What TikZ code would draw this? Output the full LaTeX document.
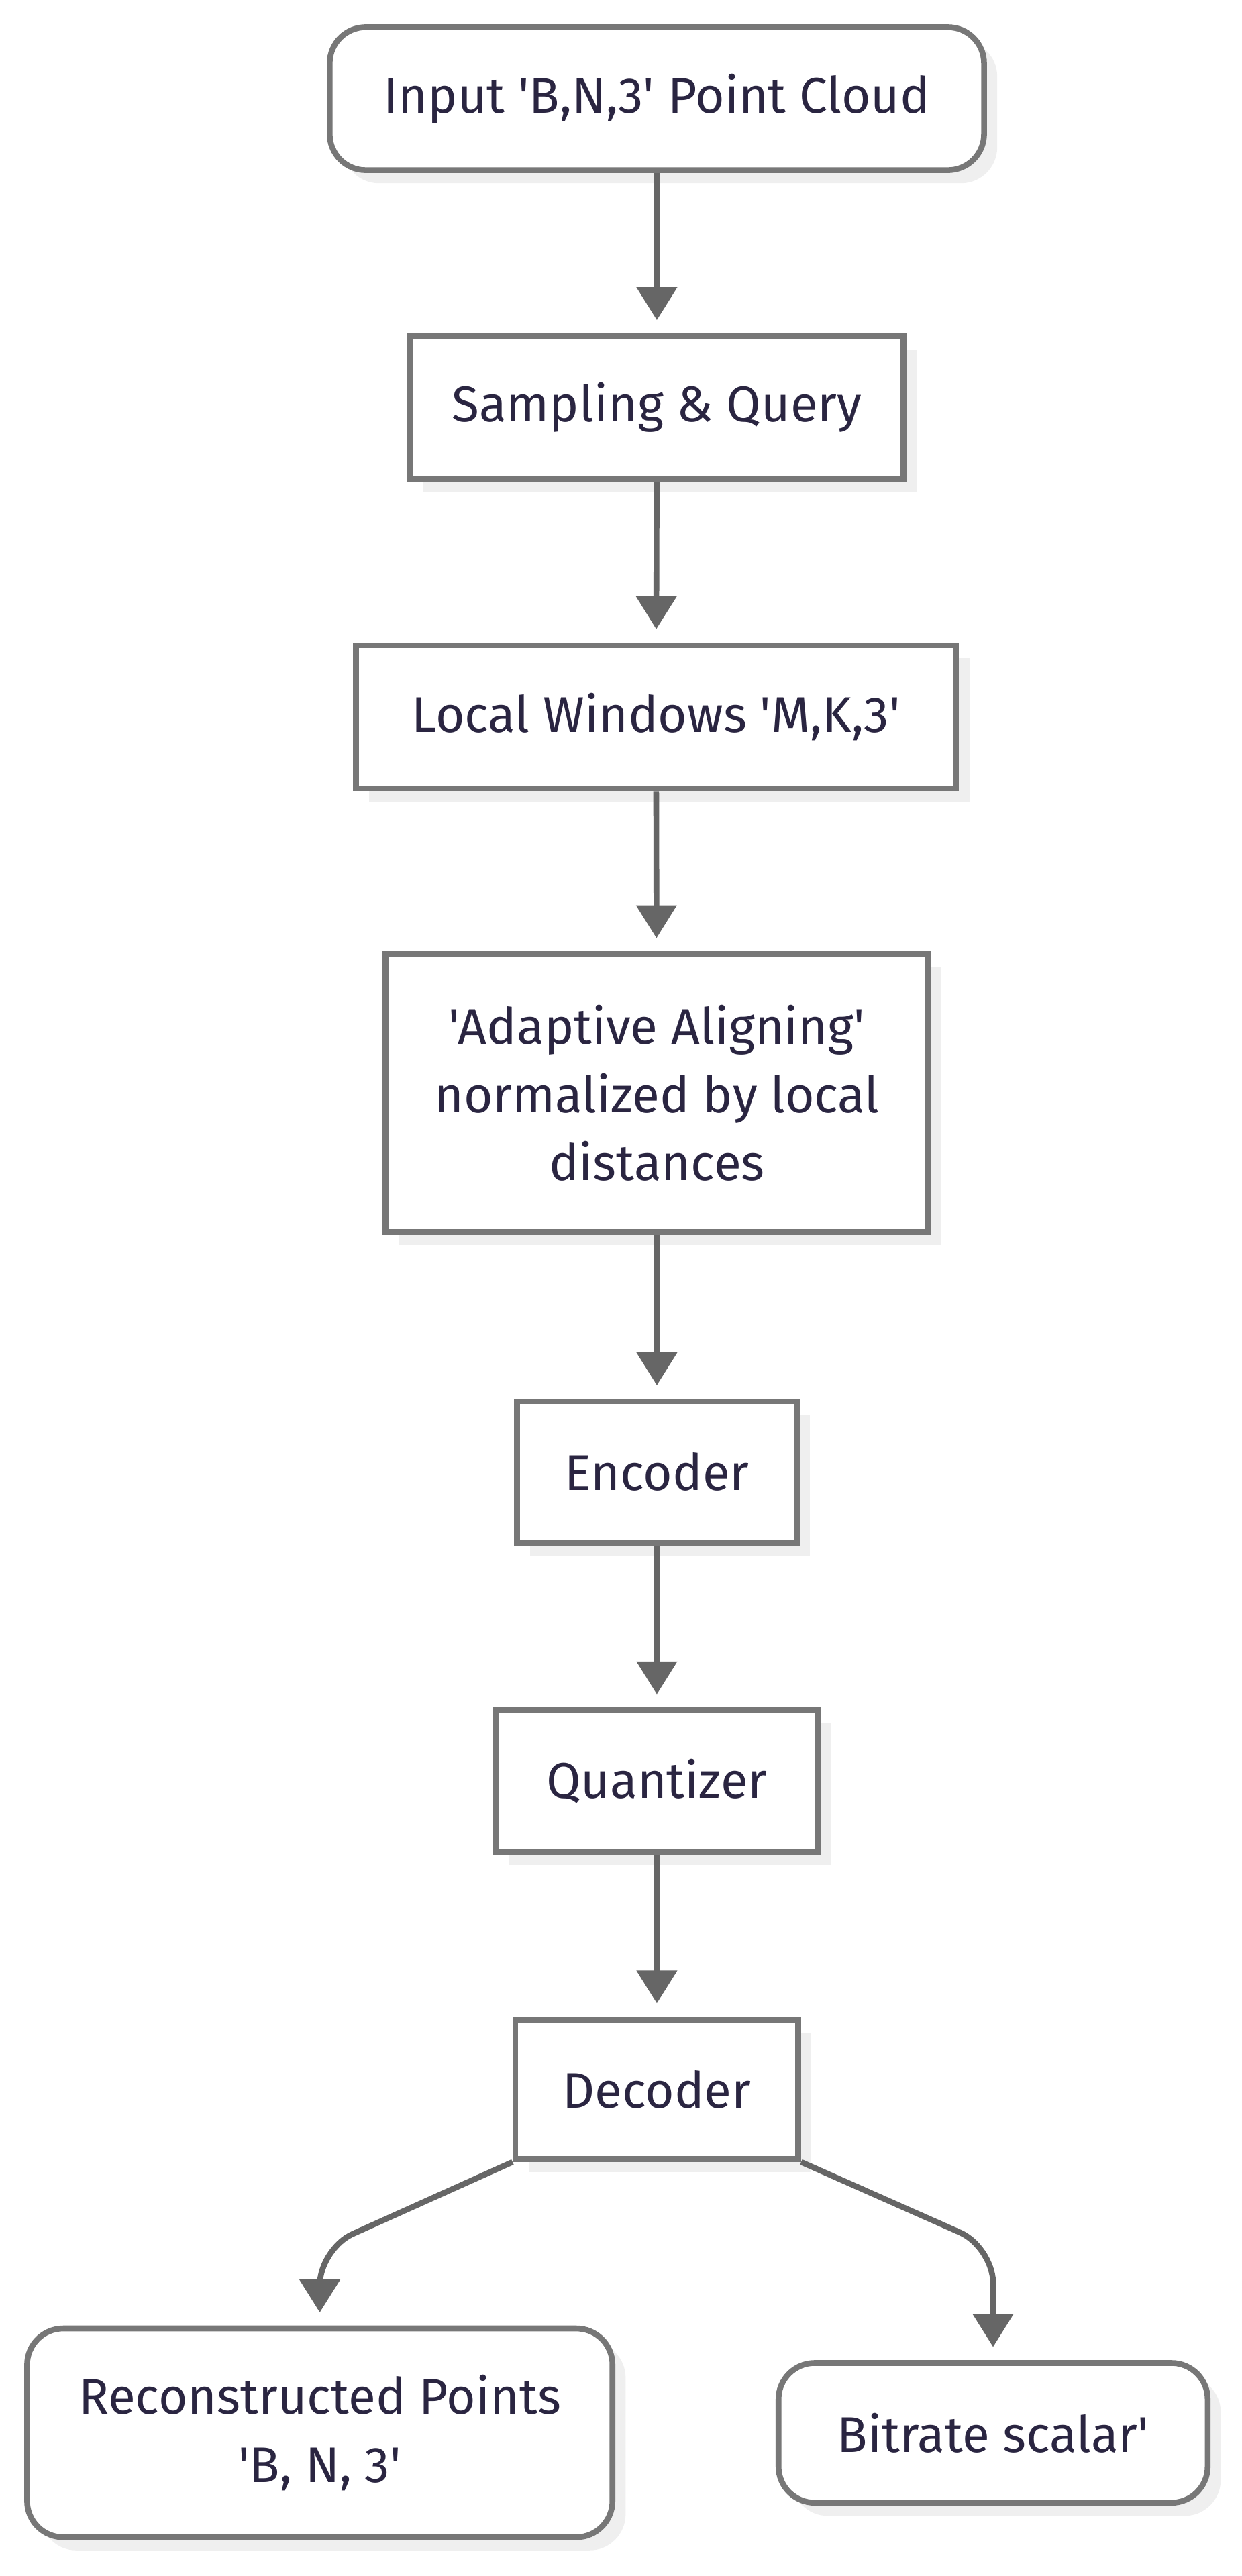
\documentclass[tikz,border=0pt]{standalone}
\usepackage{fontspec}
\setmainfont{Fira Sans}[Ligatures=TeXOff]
\usepackage{tikz}
\usetikzlibrary{arrows.meta,shadows}
\definecolor{boxgray}{HTML}{777777}
\definecolor{linkgray}{HTML}{666666}
\definecolor{shadegray}{HTML}{EFEFEF}
\definecolor{labelink}{HTML}{2A2541}
\tikzset{
  box/.style={draw=boxgray, line width=3.5pt, fill=white, inner sep=0pt,
    text=labelink, align=center, font=\fontsize{30.5}{41.5}\selectfont,
    drop shadow={shadow xshift=8pt, shadow yshift=-8pt, fill=shadegray, opacity=1}},
  roundbox/.style={box, rounded corners=22pt},
  link/.style={draw=linkgray, line width=3.5pt, shorten >=8pt,
    -{Triangle[length=20pt,width=24pt]}},
}

\begin{document}
\begin{tikzpicture}[x=1pt,y=-1pt]
			%%%%% START %%%%%
			\useasboundingbox (0,0) rectangle (755,1567.1);
			
			\node[roundbox, minimum width=398pt, minimum height=87pt] (inpt) at (399.5, 60) {Input 'B,N,3' Point Cloud};
			\node[box, minimum width=300pt, minimum height=87pt] (samp) at (399.5, 248) {Sampling \& Query};
			\node[box, minimum width=365pt, minimum height=87pt] (wind) at (399, 436) {Local Windows 'M,K,3'};
			\node[box, minimum width=330pt, minimum height=169pt] (algn) at (399.5, 665) {'Adaptive Aligning'\\normalized by local\\distances};
			\node[box, minimum width=170pt, minimum height=86pt] (enc) at (399.5, 895.5) {Encoder};
			\node[box, minimum width=196pt, minimum height=86pt] (quant) at (399.5, 1083.5) {Quantizer};
			\node[box, minimum width=172pt, minimum height=85pt] (dec) at (399.5, 1271) {Decoder};
			
			\node[roundbox, minimum width=356pt, minimum height=127pt] (recon) at (194.5, 1480) {Reconstructed Points\\'B, N, 3'};
			\node[roundbox, minimum width=261pt, minimum height=85pt] (rate) at (604, 1480) {Bitrate scalar'};
			
			\draw[link] (inpt) -- (samp);
			\draw[link] (samp) -- (wind);
			\draw[link] (wind) -- (algn);
			\draw[link] (algn) -- (enc);
			\draw[link] (enc) -- (quant);
			\draw[link] (quant) -- (dec);
			
			\coordinate (bendL) at (194.5, 1368);
			\coordinate (bendR) at (604, 1367);
			\draw[link, rounded corners=22pt] (dec.south west) -- (bendL) -- (recon.north);
			\draw[link, rounded corners=22pt] (dec.south east) -- (bendR) -- (rate.north);
			
			%%%%% END %%%%%
\end{tikzpicture}
\end{document}
